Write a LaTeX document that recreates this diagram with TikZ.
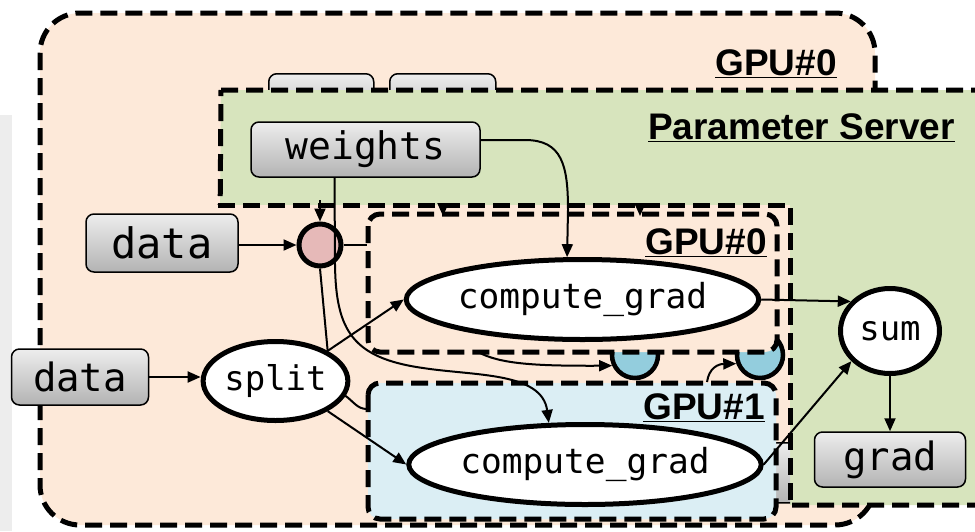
\documentclass[tikz,border=0pt]{standalone}
\usepackage{fontspec}
\setmainfont{Liberation Sans}
\newfontfamily\codefont{DejaVu Sans Mono}
\usetikzlibrary{arrows.meta,shapes.geometric}

\definecolor{peach}{HTML}{FDE9D9}
\definecolor{psgreen}{HTML}{D7E4BD}
\definecolor{gpublue}{HTML}{DBEEF4}
\definecolor{cupblue}{HTML}{93CDDD}
\definecolor{pinkfill}{HTML}{E6B9B8}
\definecolor{stripgrey}{HTML}{EDEDED}
\definecolor{boxtop}{HTML}{EDEDED}
\definecolor{boxbot}{HTML}{B3B3B3}

\tikzset{
  zonebox/.style={draw=black, line width=5pt, dash pattern=on 17pt off 8pt},
  greybox/.style={rectangle, rounded corners=8pt, draw=black, line width=1.5pt,
    top color=boxtop, bottom color=boxbot, inner sep=0pt},
  opnode/.style={ellipse, draw=black, line width=5pt, fill=white, inner sep=0pt},
  cup/.style={circle, draw=black, line width=4.5pt, fill=cupblue, inner sep=0pt, minimum size=46pt},
  wire/.style={draw=black, line width=2pt},
  arr/.style={wire, -{Triangle[length=13pt,width=11pt]}},
  zonelabel/.style={font=\bfseries\fontsize{37}{42}\selectfont, inner sep=0pt, anchor=base east},
}

\begin{document}
\begin{tikzpicture}[x=1pt,y=-1pt]
\useasboundingbox (0,0) rectangle (975,531);

% side strip
\fill[stripgrey] (0,115) rectangle (12,531);

% outer GPU#0 region
\draw[zonebox, fill=peach, rounded corners=40pt] (40,13) rectangle (875,525);
\node[zonelabel] (gpu0outer) at (837,75) {\underline{GPU\#0}};

% boxes sitting behind the parameter server
\node[greybox, minimum width=105pt, minimum height=55pt, anchor=north west] (backA) at (268,73) {};
\node[greybox, minimum width=106pt, minimum height=55pt, anchor=north west] (backB) at (389,73) {};

% parameter server region
\draw[zonebox, fill=psgreen] (221,90) -- (995,90) -- (995,505) -- (218,505) -- cycle;
\node[zonelabel] (pslabel) at (955,139) {\underline{Parameter Server}};

% GPU#0 region in front of the parameter server
\fill[peach] (214,205) rectangle (790,521);
\begin{scope}
  \clip (700,430) rectangle (790,512);
  \node[greybox, minimum width=150pt, minimum height=60pt, anchor=north west] (backC) at (762,442) {};
\end{scope}
\draw[zonebox] (218,205) -- (790,205) -- (790,505);

% buffers between the two GPUs
\node[cup] (cupA) at (635,355) {};
\node[cup] (cupB) at (760,355) {};

% per-device regions
\draw[zonebox, fill=peach, rounded corners=12pt] (368,214) rectangle (777,352);
\node[zonelabel] (gpu0inner) at (767,254) {\underline{GPU\#0}};
\draw[zonebox, fill=gpublue, rounded corners=12pt] (368,383) rectangle (776,519);
\node[zonelabel] (gpu1inner) at (765,419) {\underline{GPU\#1}};

% data and operator nodes
\node[greybox, minimum width=229pt, minimum height=55pt, font=\codefont\fontsize{38}{40}\selectfont] (weights) at (365.5,149.5) {weights};
\node[greybox, minimum width=152pt, minimum height=58pt, font=\codefont\fontsize{42}{44}\selectfont] (dataA) at (162,243) {data};
\node[greybox, minimum width=137pt, minimum height=56pt, font=\codefont\fontsize{39}{41}\selectfont] (dataB) at (80,377) {data};
\node[greybox, minimum width=151pt, minimum height=55pt, font=\codefont\fontsize{39}{41}\selectfont] (grad) at (890,459.5) {grad};
\node[circle, draw=black, line width=5pt, fill=pinkfill, minimum size=42pt, inner sep=0pt] (mix) at (320,245) {};
\node[opnode, minimum width=140pt, minimum height=79pt, font=\codefont\fontsize{34}{36}\selectfont] (split) at (275.5,381) {split};
\node[opnode, minimum width=346pt, minimum height=80pt, font=\codefont\fontsize{34.5}{36}\selectfont] (cgA) at (582.5,299.5) {compute\_grad};
\node[opnode, minimum width=349pt, minimum height=80pt, font=\codefont\fontsize{34.5}{36}\selectfont] (cgB) at (585,464.5) {compute\_grad};
\node[opnode, minimum width=99pt, minimum height=85pt, font=\codefont\fontsize{34}{36}\selectfont] (sum) at (890,331) {sum};

% free ends of connectors
\coordinate (mixIn) at (320,200);
\coordinate (gpu0Left) at (367,245);
\coordinate (gpu1Left) at (367,409);
\coordinate (edgeTipA) at (443,203);
\coordinate (edgeTipB) at (640,203);
\coordinate (bufFromA) at (478,352);
\coordinate (bufFromB) at (707,382);

% connectors
\draw[arr] (dataA.east |- mix) -- (mix.west);
\draw[arr] (dataB.east) -- (dataB.east -| split.west);
\draw[arr] (mixIn) -- (mix.north);
\draw[wire] (mix.east) -- (gpu0Left);
\draw[wire] (mix.south) -- (split.30);
\draw[arr] ([xshift=-31pt]weights.south) -- (335,265)
  .. controls (336,330) and (352,358) .. (423,368)
  .. controls (475,376) and (542,372) .. (cgB.131);
\draw[arr] ([yshift=9.5pt]weights.east) -- (525,140)
  .. controls (562,140) and (568,165) .. (568,210) -- (cgA.110);
\draw[arr] (split.30) -- (cgA.west);
\draw[arr] (split.-30) -- (cgB.west);
\draw[wire] (split.-12) to[out=-35,in=180] (gpu1Left);
\draw[arr] (edgeTipA) -- ++(0,13);
\draw[arr] (edgeTipB) -- ++(0,13);
\draw[arr] (bufFromA) .. controls (500,364) and (535,366) .. (cupA.205);
\draw[arr] (bufFromB) .. controls (709,368) and (718,364) .. (cupB.200);
\draw[arr] (cgA.east) -- (sum.143);
\draw[arr] (cgB.east) -- (sum.218);
\draw[arr] (sum.south) -- (grad.north);

\end{tikzpicture}
\end{document}
